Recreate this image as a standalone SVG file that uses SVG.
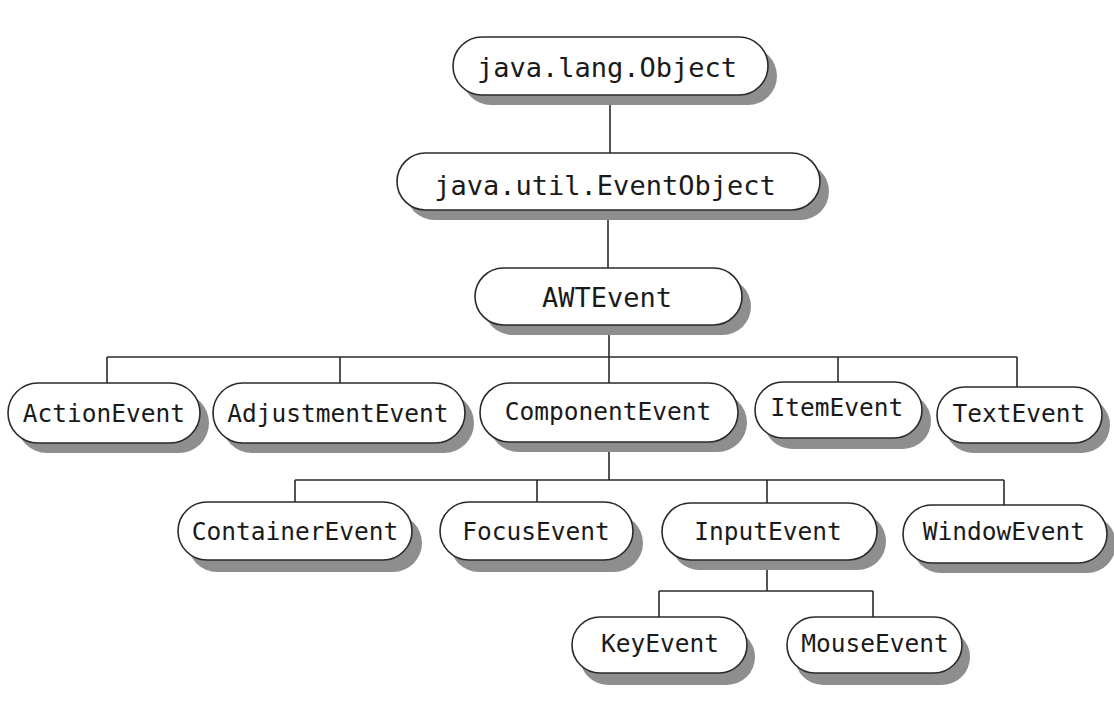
<svg xmlns="http://www.w3.org/2000/svg" width="1114" height="709" viewBox="0 0 1114 709">
<style>
.sh{fill:#8e8e8e;}
.pill{fill:#ffffff;stroke:#2a2a2a;stroke-width:1.6;}
.t{font-family:"DejaVu Sans Mono","Liberation Mono",monospace;fill:#1a1a1a;text-anchor:middle;}
.big{font-size:27px;}
.sm{font-size:24.5px;}
.conn line{stroke:#2a2a2a;stroke-width:1.6;}
</style>
<rect width="1114" height="709" fill="#ffffff"/>
<g id="connectors" class="conn">
<line x1="610" y1="95" x2="610" y2="153"/>
<line x1="608" y1="210" x2="608" y2="268"/>
<line x1="609" y1="325" x2="609" y2="383"/>
<line x1="107" y1="357" x2="1017" y2="357"/>
<line x1="107" y1="357" x2="107" y2="383"/>
<line x1="340" y1="357" x2="340" y2="383"/>
<line x1="838" y1="357" x2="838" y2="382"/>
<line x1="1017" y1="357" x2="1017" y2="387"/>
<line x1="609" y1="442" x2="609" y2="480"/>
<line x1="295" y1="480" x2="1004" y2="480"/>
<line x1="295" y1="480" x2="295" y2="502"/>
<line x1="537" y1="480" x2="537" y2="502"/>
<line x1="767" y1="480" x2="767" y2="503"/>
<line x1="1004" y1="480" x2="1004" y2="505"/>
<line x1="767" y1="560" x2="767" y2="591"/>
<line x1="659" y1="591" x2="873" y2="591"/>
<line x1="659" y1="591" x2="659" y2="617"/>
<line x1="873" y1="591" x2="873" y2="617"/>
</g>
<g id="n-object">
<rect class="sh" x="462" y="47" width="315" height="58" rx="29"/>
<rect class="pill" x="453" y="37" width="315" height="58" rx="29"/>
<text class="t big" x="607" y="77">java.lang.Object</text>
</g>
<g id="n-eventobject">
<rect class="sh" x="406" y="163" width="423" height="57" rx="28.5"/>
<rect class="pill" x="397" y="153" width="423" height="57" rx="28.5"/>
<text class="t big" x="605" y="195">java.util.EventObject</text>
</g>
<g id="n-awtevent">
<rect class="sh" x="484" y="278" width="267" height="57" rx="28.5"/>
<rect class="pill" x="475" y="268" width="267" height="57" rx="28.5"/>
<text class="t big" x="607" y="307">AWTEvent</text>
</g>
<g id="n-actionevent">
<rect class="sh" x="17" y="393" width="192" height="60" rx="30"/>
<rect class="pill" x="8" y="383" width="192" height="60" rx="30"/>
<text class="t sm" x="104" y="422">ActionEvent</text>
</g>
<g id="n-adjustmentevent">
<rect class="sh" x="222" y="393" width="252" height="60" rx="30"/>
<rect class="pill" x="213" y="383" width="252" height="60" rx="30"/>
<text class="t sm" x="338" y="422">AdjustmentEvent</text>
</g>
<g id="n-componentevent">
<rect class="sh" x="489" y="393" width="258" height="59" rx="29.5"/>
<rect class="pill" x="480" y="383" width="258" height="59" rx="29.5"/>
<text class="t sm" x="608" y="420">ComponentEvent</text>
</g>
<g id="n-itemevent">
<rect class="sh" x="764" y="393" width="167" height="56" rx="28"/>
<rect class="pill" x="755" y="382" width="167" height="56" rx="28"/>
<text class="t sm" x="837" y="416">ItemEvent</text>
</g>
<g id="n-textevent">
<rect class="sh" x="945" y="397" width="165" height="56" rx="28"/>
<rect class="pill" x="937" y="387" width="165" height="56" rx="28"/>
<text class="t sm" x="1019" y="422">TextEvent</text>
</g>
<g id="n-containerevent">
<rect class="sh" x="188" y="514" width="234" height="58" rx="29"/>
<rect class="pill" x="178" y="502" width="234" height="58" rx="29"/>
<text class="t sm" x="295" y="540">ContainerEvent</text>
</g>
<g id="n-focusevent">
<rect class="sh" x="450" y="514" width="193" height="58" rx="29"/>
<rect class="pill" x="440" y="502" width="193" height="58" rx="29"/>
<text class="t sm" x="536" y="540">FocusEvent</text>
</g>
<g id="n-inputevent">
<rect class="sh" x="671" y="513" width="215" height="57" rx="28.5"/>
<rect class="pill" x="662" y="503" width="215" height="57" rx="28.5"/>
<text class="t sm" x="768" y="540">InputEvent</text>
</g>
<g id="n-windowevent">
<rect class="sh" x="912" y="515" width="204" height="58" rx="29"/>
<rect class="pill" x="903" y="505" width="204" height="58" rx="29"/>
<text class="t sm" x="1004" y="540">WindowEvent</text>
</g>
<g id="n-keyevent">
<rect class="sh" x="580" y="629" width="175" height="56" rx="28"/>
<rect class="pill" x="572" y="617" width="175" height="56" rx="28"/>
<text class="t sm" x="660" y="652">KeyEvent</text>
</g>
<g id="n-mouseevent">
<rect class="sh" x="795" y="629" width="175" height="56" rx="28"/>
<rect class="pill" x="787" y="617" width="175" height="56" rx="28"/>
<text class="t sm" x="875" y="652">MouseEvent</text>
</g>
</svg>
